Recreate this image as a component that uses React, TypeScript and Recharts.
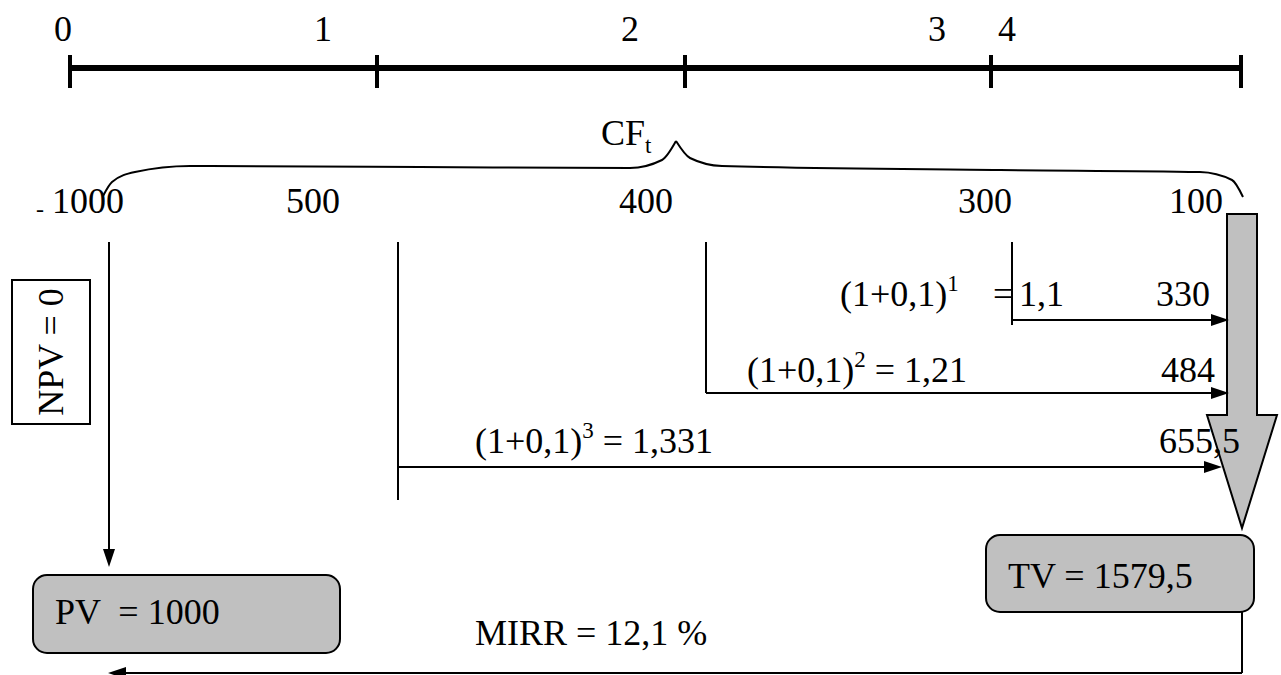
import React from 'react';
import {
  ComposedChart,
  XAxis,
  YAxis,
  Line,
  ReferenceLine,
  ReferenceDot,
  ReferenceArea,
} from 'recharts';

const FONT = '"Liberation Serif", "Times New Roman", serif';
const FS = 36;
const GRAY = '#c0c0c0';

// timeline
const periods = ['0', '1', '2', '3', '4'];
const periodLabelX = [63, 323, 630, 937, 1007];
const periodTickX = [70, 377, 685, 991, 1241];
const axisY = 68;

// cash flows CF_t
const cashFlows = ['1000', '500', '400', '300', '100'];
const cashFlowX = [88, 313, 646, 985, 1196];
const cashFlowDropX = [109, 398, 706, 1012];

// brace over cash flows
const braceLeft = [
  { x: 103, y: 196 },
  { x: 112, y: 182 },
  { x: 135, y: 172 },
  { x: 190, y: 166 },
  { x: 420, y: 167 },
  { x: 630, y: 168 },
  { x: 662, y: 160 },
  { x: 676, y: 141 },
];
const braceRight = [
  { x: 676, y: 141 },
  { x: 690, y: 158 },
  { x: 722, y: 166 },
  { x: 1000, y: 170 },
  { x: 1200, y: 172 },
  { x: 1232, y: 180 },
  { x: 1243, y: 197 },
];

// compounding at r = 0,1
const powers = ['1', '2', '3'];
const factors = ['1,1', '1,21', '1,331'];
const futureValues = ['330', '484', '655,5'];
const fromX = [1012, 706, 398];
const arrowY = [320, 393, 467];
const arrowTipX = [1229, 1229, 1222];
const dropBottomY = [325, 393, 500];
const formulaX = [840, 747, 475];
const formulaY = [306, 382, 453];
const valueRightX = [1210, 1215, 1240];

const txt = (key: string, x: number, y: number, content: React.ReactNode, anchor = 'start', size = FS) => (
  <ReferenceDot
    key={key}
    x={x}
    y={y}
    r={0}
    ifOverflow="visible"
    shape={(p: any) => (
      <text x={p.cx} y={p.cy} fontFamily={FONT} fontSize={size} fill="#000" textAnchor={anchor}>
        {content}
      </text>
    )}
  />
);

const seg = (key: string, x1: number, y1: number, x2: number, y2: number, w = 2) => (
  <ReferenceLine
    key={key}
    segment={[{ x: x1, y: y1 }, { x: x2, y: y2 }]}
    stroke="#000"
    strokeWidth={w}
    ifOverflow="visible"
  />
);

const head = (key: string, x: number, y: number, dir: 'right' | 'down' | 'left') => (
  <ReferenceDot
    key={key}
    x={x}
    y={y}
    r={0}
    ifOverflow="visible"
    shape={(p: any) => {
      const { cx, cy } = p;
      let pts = '';
      if (dir === 'right') pts = `${cx},${cy} ${cx - 18},${cy - 6} ${cx - 18},${cy + 6}`;
      if (dir === 'left') pts = `${cx},${cy} ${cx + 18},${cy - 6} ${cx + 18},${cy + 6}`;
      if (dir === 'down') pts = `${cx},${cy} ${cx - 6},${cy - 18} ${cx + 6},${cy - 18}`;
      return <polygon points={pts} fill="#000" />;
    }}
  />
);

const box = (key: string, x1: number, y1: number, x2: number, y2: number, rx: number, fill: string) => (
  <ReferenceArea
    key={key}
    x1={x1}
    x2={x2}
    y1={y1}
    y2={y2}
    ifOverflow="visible"
    shape={(p: any) => (
      <rect
        x={p.x}
        y={Math.min(p.y, p.y + p.height)}
        width={Math.abs(p.width)}
        height={Math.abs(p.height)}
        rx={rx}
        fill={fill}
        stroke="#000"
        strokeWidth={2}
      />
    )}
  />
);

const BlockArrowDown = (p: any) => {
  const x = p.x;
  const y = Math.min(p.y, p.y + p.height);
  const w = Math.abs(p.width);
  const h = Math.abs(p.height);
  const shaft = 30;
  const headLen = 113;
  const cx = x + w / 2;
  const pts = [
    [cx - shaft / 2, y],
    [cx + shaft / 2, y],
    [cx + shaft / 2, y + h - headLen],
    [x + w, y + h - headLen],
    [cx, y + h],
    [x, y + h - headLen],
    [cx - shaft / 2, y + h - headLen],
  ]
    .map((q) => q.join(','))
    .join(' ');
  return <polygon points={pts} fill={GRAY} stroke="#000" strokeWidth={2} />;
};

const Formula = ({ power, factor }: { power: string; factor: string }) => (
  <>
    <tspan>(1+0,1)</tspan>
    <tspan dy={-15} fontSize={23}>{power}</tspan>
    <tspan dy={15}> = {factor}</tspan>
  </>
);

export default function App() {
  return (
    <div style={{ position: 'absolute', left: 0, top: 0, width: 1281, height: 675, background: '#fff' }}>
      <ComposedChart width={1281} height={675} margin={{ top: 0, right: 0, bottom: 0, left: 0 }}>
        <XAxis type="number" dataKey="x" domain={[0, 1281]} hide />
        <YAxis type="number" domain={[0, 675]} reversed hide />

        {/* timeline */}
        {seg('axis', periodTickX[0], axisY, periodTickX[periodTickX.length - 1], axisY, 6)}
        {periodTickX.map((x, i) => seg(`tick${i}`, x, axisY - 13, x, axisY + 20, 4))}
        {periods.map((p, i) => txt(`per${i}`, periodLabelX[i], 41, p, 'middle'))}

        {/* CF_t and brace */}
        {txt('cf', 601, 145, (
          <>
            <tspan>CF</tspan>
            <tspan dy={8} fontSize={23}>t</tspan>
          </>
        ))}
        <Line data={braceLeft} dataKey="y" type="monotone" stroke="#000" strokeWidth={2} dot={false} activeDot={false} legendType="none" isAnimationActive={false} />
        <Line data={braceRight} dataKey="y" type="monotone" stroke="#000" strokeWidth={2} dot={false} activeDot={false} legendType="none" isAnimationActive={false} />

        {txt('minus', 40, 217, '-', 'middle', 24)}
        {cashFlows.map((c, i) => txt(`cfv${i}`, cashFlowX[i], 213, c, 'middle'))}

        {/* drop lines from cash flows */}
        {seg('drop0', cashFlowDropX[0], 242, cashFlowDropX[0], 552)}
        {head('h0', cashFlowDropX[0], 567, 'down')}
        {fromX.map((x, i) => seg(`drop${i + 1}`, x, 242, x, dropBottomY[i]))}

        {/* compounding arrows */}
        {fromX.map((x, i) => seg(`arr${i}`, x, arrowY[i], arrowTipX[i] - 10, arrowY[i]))}
        {arrowTipX.map((x, i) => head(`ah${i}`, x, arrowY[i], 'right'))}
        {txt('f0', formulaX[0], formulaY[0], (
          <>
            <tspan>(1+0,1)</tspan>
            <tspan dy={-15} fontSize={23}>{powers[0]}</tspan>
          </>
        ))}
        {txt('eq0', 993, formulaY[0], '=')}
        {txt('fac0', 1019, formulaY[0], factors[0])}
        {powers.slice(1).map((p, j) =>
          txt(`f${j + 1}`, formulaX[j + 1], formulaY[j + 1], <Formula power={p} factor={factors[j + 1]} />)
        )}
        {futureValues.map((v, i) => txt(`fv${i}`, valueRightX[i], formulaY[i], v, 'end'))}

        {/* thick gray arrow into TV */}
        <ReferenceArea x1={1207} x2={1277} y1={214} y2={528} ifOverflow="visible" shape={BlockArrowDown} />

        {/* NPV box */}
        {box('npv', 12, 280, 90, 424, 0, '#fff')}
        <ReferenceDot
          x={51}
          y={352}
          r={0}
          ifOverflow="visible"
          shape={(p: any) => (
            <text
              x={p.cx}
              y={p.cy}
              fontFamily={FONT}
              fontSize={FS}
              textAnchor="middle"
              dominantBaseline="central"
              transform={`rotate(-90 ${p.cx} ${p.cy})`}
            >
              NPV = 0
            </text>
          )}
        />

        {/* PV / TV */}
        {box('pv', 33, 575, 340, 653, 14, GRAY)}
        {txt('pvt', 55, 624, <tspan style={{ whiteSpace: 'pre' }}>PV  = 1000</tspan>)}
        {box('tv', 986, 535, 1254, 612, 14, GRAY)}
        {txt('tvt', 1008, 588, 'TV = 1579,5')}
        {txt('mirr', 475, 645, 'MIRR = 12,1 %')}

        {/* return line TV -> PV */}
        {seg('r1', 1242, 612, 1242, 673)}
        {seg('r2', 1242, 673, 124, 673)}
        {head('rh', 108, 673, 'left')}
      </ComposedChart>
    </div>
  );
}
